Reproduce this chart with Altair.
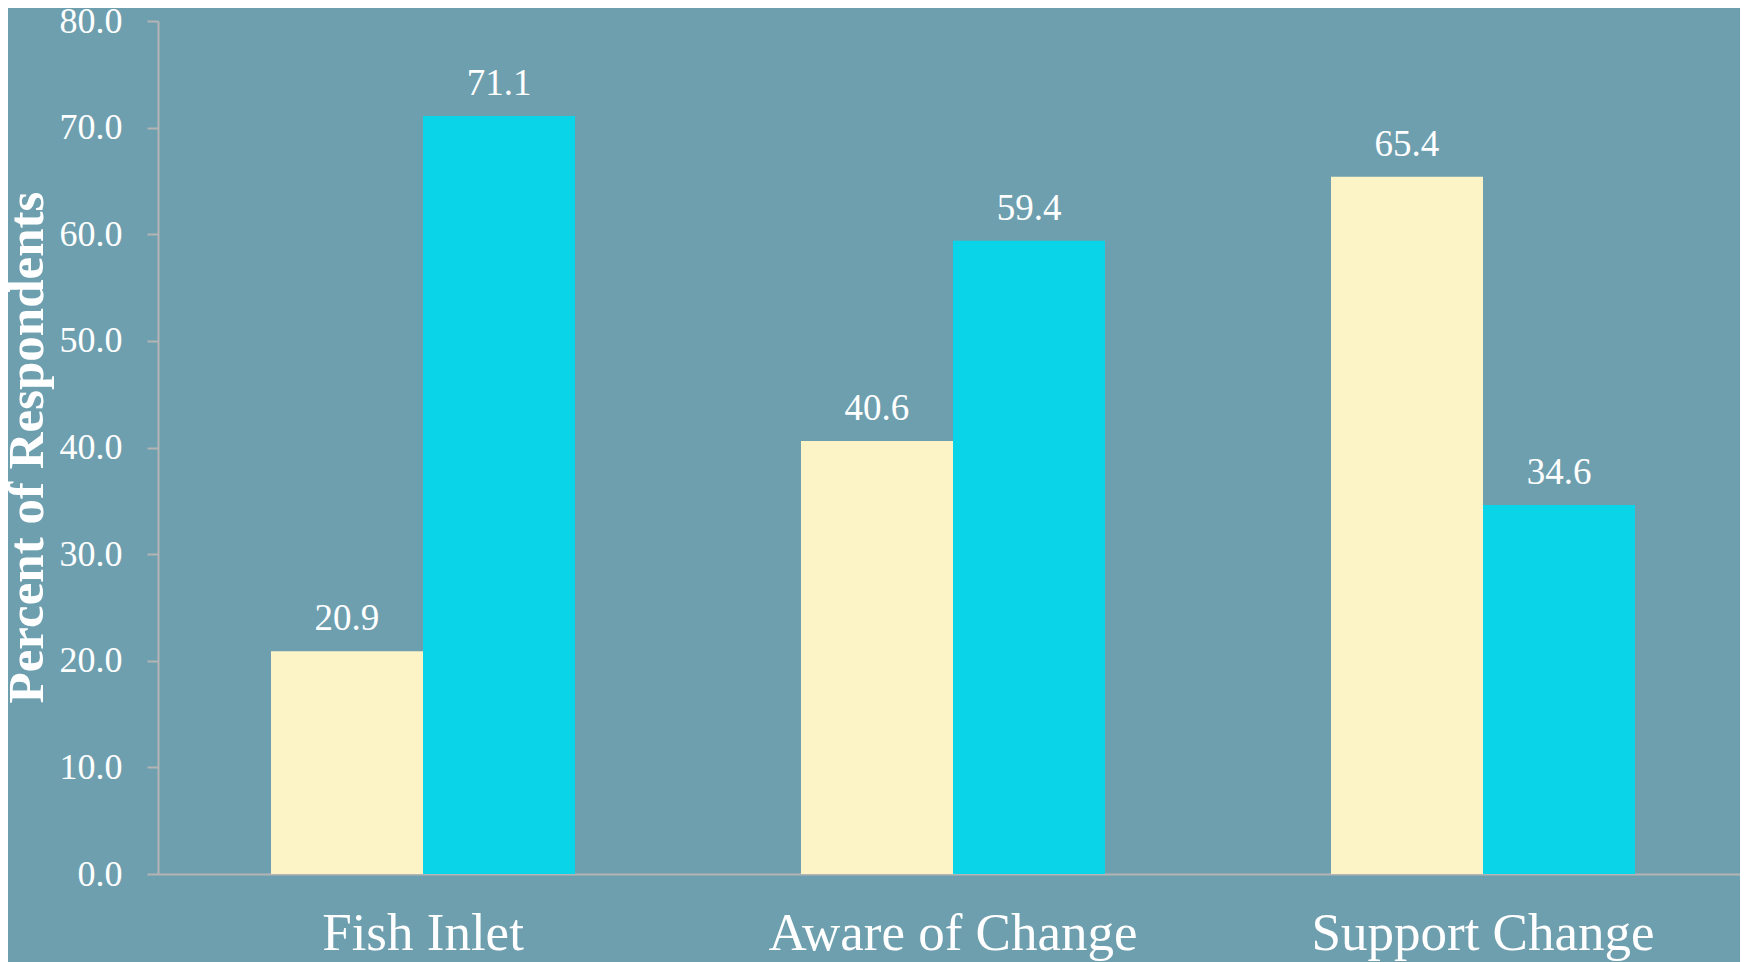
import altair as alt
import pandas as pd

categories = ["Fish Inlet", "Aware of Change", "Support Change"]
series_names = ["Yes", "No"]
series_yes = [20.9, 40.6, 65.4]
series_no = [71.1, 59.4, 34.6]
y_ticks = [0, 10, 20, 30, 40, 50, 60, 70, 80]

rows = []
for c, a, b in zip(categories, series_yes, series_no):
    rows.append({"category": c, "series": series_names[0], "value": a})
    rows.append({"category": c, "series": series_names[1], "value": b})
df = pd.DataFrame(rows)

FONT = "Liberation Serif"
BG = "#6E9FAF"
AXIS = "#B4B4B4"

x_enc = alt.X(
    "category:N",
    sort=categories,
    scale=alt.Scale(paddingInner=0.4264, paddingOuter=0.2132, range=[0, 1590]),
    axis=alt.Axis(
        title=None,
        ticks=False,
        tickSize=0,
        labelAngle=0,
        labelLimit=0,
        labelFont=FONT,
        labelFontSize=53,
        labelColor="white",
        labelBaseline="alphabetic",
        labelPadding=75,
        domainColor=AXIS,
        domainWidth=2,
    ),
)
xoff_enc = alt.XOffset(
    "series:N",
    sort=series_names,
    scale=alt.Scale(paddingInner=0, paddingOuter=0),
)
y_enc = alt.Y(
    "value:Q",
    scale=alt.Scale(domain=[0, 80], nice=False),
    axis=alt.Axis(
        title="Percent of Respondents",
        values=y_ticks,
        format=".1f",
        grid=False,
        labelFont=FONT,
        labelFontSize=36,
        labelColor="white",
        labelPadding=25,
        tickSize=11,
        tickColor=AXIS,
        tickWidth=2,
        domainColor=AXIS,
        domainWidth=2,
        titleFont=FONT,
        titleFontSize=51,
        titleFontWeight="bold",
        titleColor="white",
        titleAngle=-90,
        titleX=-131,
        titleY=426,
        titleAlign="center",
        titleBaseline="middle",
    ),
)

bars = alt.Chart(df).mark_bar().encode(
    x=x_enc,
    xOffset=xoff_enc,
    y=y_enc,
    color=alt.Color(
        "series:N",
        sort=series_names,
        scale=alt.Scale(domain=series_names, range=["#FCF4C6", "#0AD4E8"]),
        legend=None,
    ),
)

labels = alt.Chart(df).mark_text(
    font=FONT, fontSize=37, color="white", baseline="alphabetic", dy=-21
).encode(
    x=alt.X("category:N", sort=categories),
    xOffset=alt.XOffset("series:N", sort=series_names),
    y=alt.Y("value:Q"),
    text=alt.Text("value:Q", format=".1f"),
)

chart = (
    alt.layer(bars, labels)
    .properties(
        width=1582,
        height=853,
        background=BG,
        autosize=alt.AutoSizeParams(type="none"),
        padding={"left": 150, "top": 13, "right": 0, "bottom": 88},
    )
    .configure_view(stroke=None)
)

chart.save("out.html", embed_options={"renderer": "svg", "actions": False})
